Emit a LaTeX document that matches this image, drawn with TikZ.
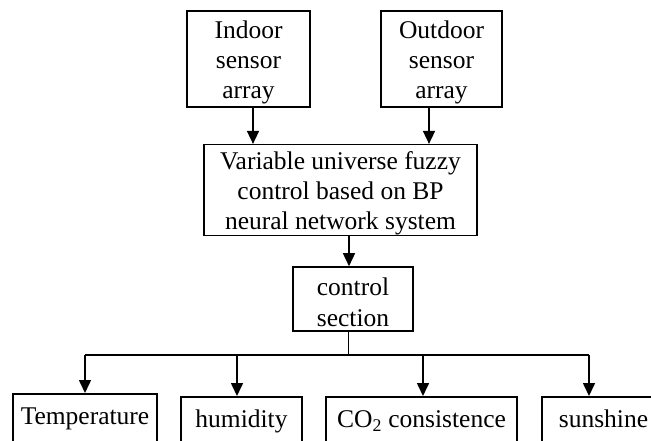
\documentclass[tikz,border=0pt]{standalone}
\usepackage{fontspec}
\setmainfont{Liberation Serif}
\usetikzlibrary{arrows.meta,calc}
\newcommand{\mytopstrut}{\rule{0pt}{24.5pt}}
\tikzset{
  box/.style={draw, line width=1.6pt, inner sep=0pt, align=center,
    font=\fontsize{25.5}{30.3}\selectfont},
  outbox/.style={draw, line width=1.6pt, inner xsep=0pt, inner ysep=0pt, anchor=north,
    text height=31pt, text depth=40pt, font=\fontsize{25.5}{30}\selectfont},
  arr/.style={line width=1.6pt, -{Triangle[length=13pt,width=12pt]}},
  bus/.style={line width=1.6pt},
  conn/.style={line width=1pt}
}
\begin{document}
\begin{tikzpicture}[x=1pt,y=-1pt]
\useasboundingbox (0,0) rectangle (651,441);
\clip (0,0) rectangle (651,441);
\node[box, minimum width=123pt, minimum height=96pt] (indoor) at (248.5,59) {\mytopstrut Indoor\\sensor\\array};
\node[box, minimum width=121pt, minimum height=96pt] (outdoor) at (441.5,59) {\mytopstrut Outdoor\\sensor\\array};
\node[box, minimum width=273pt, minimum height=90pt] (big) at (340.5,190) {\mytopstrut Variable universe fuzzy\\control based on BP\\neural network system};
\node[box, minimum width=120pt, minimum height=64pt] (ctrl) at (353,299) {\mytopstrut control\\section};
\node[outbox, minimum width=144pt] (temp) at (85,393) {Temperature};
\node[outbox, minimum width=121pt] (hum) at (241.5,396) {humidity};
\node[outbox, minimum width=191pt] (co2) at (421.5,396) {CO\textsubscript{2} consistence};
\node[outbox, minimum width=123pt] (sun) at (603.5,396) {sunshine};
\draw[arr] ([xshift=4.5pt]indoor.south) -- ([xshift=4.5pt]indoor.south |- big.north);
\draw[arr] ([xshift=-12.5pt]outdoor.south) -- ([xshift=-12.5pt]outdoor.south |- big.north);
\draw[arr] ([xshift=8.5pt]big.south) -- ([xshift=8.5pt]big.south |- ctrl.north);
\coordinate (j) at (348,355);
\coordinate (b1) at (85,355);
\coordinate (b2) at (237,355);
\coordinate (b3) at (423,355);
\coordinate (b4) at (589,355);
\draw[conn] (ctrl.south -| j) -- (j);
\draw[bus] (b1) -- (b4);
\draw[arr] (b1) -- (b1 |- temp.north);
\draw[arr] (b2) -- (b2 |- hum.north);
\draw[arr] (b3) -- (b3 |- co2.north);
\draw[arr] (b4) -- (b4 |- sun.north);
\end{tikzpicture}
\end{document}
